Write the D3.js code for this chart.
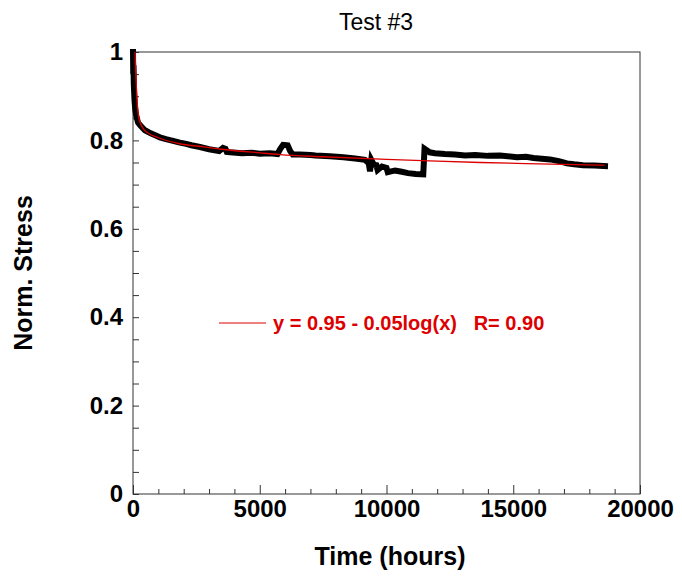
<!DOCTYPE html>
<html>
<head>
<meta charset="utf-8">
<script src="https://cdn.jsdelivr.net/npm/d3@7"></script>
<style>
  html, body { margin: 0; padding: 0; background: #fff; }
  svg { display: block; font-family: Arial, "Liberation Sans", sans-serif; }
</style>
</head>
<body>
<svg id="chart" width="682" height="576"></svg>
<script>
// ---- data ----
const chartTitle = "Test #3";
const xLabel = "Time (hours)";
const yLabel = "Norm. Stress";
const legendText = "y = 0.95 - 0.05log(x)   R= 0.90";

const xTicks = [0, 5000, 10000, 15000, 20000];
const yTicks = [0, 0.2, 0.4, 0.6, 0.8, 1];
const yTickLabels = ["0", "0.2", "0.4", "0.6", "0.8", "1"];

// measured normalized stress vs time
const timeHours = [0, 10, 20, 30, 45, 60, 90, 130, 200, 300, 470, 700, 900, 1060, 1300, 1500, 1850, 2100, 2300, 2640, 3000, 3400,
  3550, 3650, 3700, 3830, 4300, 4700, 5000, 5400, 5700, 5800, 5920, 6100, 6200, 6300, 6590, 7000, 7200, 7770, 8300, 8760,
  9150, 9300, 9350, 9400, 9500, 9600, 9650, 9820, 10000, 10050, 10340, 10600, 10850, 11150, 11450, 11500,
  11700, 11910, 12300, 12700, 13100, 13500, 14000, 14480, 15150, 15500, 15800, 16450, 16800, 17120, 17400, 17750, 18200, 18620];
const stress = [1.0, 0.95, 0.97, 0.93, 0.91, 0.89, 0.87, 0.855, 0.84, 0.833, 0.823, 0.816, 0.811, 0.807, 0.803, 0.80, 0.795, 0.792, 0.789, 0.785, 0.78, 0.776,
  0.783, 0.781, 0.774, 0.773, 0.771, 0.772, 0.770, 0.771, 0.769, 0.78, 0.79, 0.789, 0.776, 0.768, 0.768, 0.767, 0.766, 0.764, 0.762, 0.759,
  0.756, 0.748, 0.73, 0.756, 0.745, 0.744, 0.733, 0.741, 0.738, 0.728, 0.732, 0.729, 0.726, 0.724, 0.723, 0.781,
  0.773, 0.771, 0.769, 0.768, 0.766, 0.767, 0.765, 0.766, 0.762, 0.763, 0.760, 0.757, 0.753, 0.748, 0.746, 0.744, 0.743, 0.742];

// logarithmic fit curve as drawn
const fitTime = [80, 150, 237, 473, 1000, 1800, 2850, 3500, 5000, 5800, 7500, 10000, 12000, 13700, 16000, 18600];
const fitStress = [1.0, 0.9, 0.849, 0.822, 0.806, 0.793, 0.785, 0.780, 0.772, 0.768, 0.763, 0.757, 0.753, 0.750, 0.747, 0.744];

// ---- drawing ----
const svg = d3.select("#chart");
const mLeft = 133, mRight = 640, mTop = 52, mBottom = 494;
const x = d3.scaleLinear().domain([0, 20000]).range([mLeft, mRight]);
const y = d3.scaleLinear().domain([0, 1]).range([mBottom, mTop]);
const red = "#dd0000";

// minor ticks
const xMinor = d3.range(1000, 20000, 1000).filter(v => v % 5000 !== 0);
const yMinor = d3.range(1, 20).map(i => i * 0.05).filter((v, i) => (i + 1) % 4 !== 0);

svg.append("g").attr("transform", `translate(0,${mBottom})`)
  .call(d3.axisBottom(x).tickValues(xMinor).tickSize(-5).tickFormat(""))
  .call(g => g.select(".domain").remove())
  .selectAll("line").attr("stroke", "#333");
svg.append("g").attr("transform", `translate(${mLeft},0)`)
  .call(d3.axisLeft(y).tickValues(yMinor).tickSize(-6).tickFormat(""))
  .call(g => g.select(".domain").remove())
  .selectAll("line").attr("stroke", "#333");

// major axes
const gx = svg.append("g").attr("transform", `translate(0,${mBottom})`)
  .call(d3.axisBottom(x).tickValues(xTicks).tickSize(-9).tickPadding(6).tickFormat(d3.format("d")));
gx.select(".domain").remove();
gx.selectAll("line").attr("stroke", "#333");
gx.selectAll("text").attr("font-size", 24).attr("font-weight", "bold").attr("fill", "#000")
  .attr("font-family", "Arial, 'Liberation Sans', sans-serif");

const gy = svg.append("g").attr("transform", `translate(${mLeft},0)`)
  .call(d3.axisLeft(y).tickValues(yTicks).tickSize(-6).tickPadding(10).tickFormat((d, i) => yTickLabels[i]));
gy.select(".domain").remove();
gy.selectAll("line").attr("stroke", "#333");
gy.selectAll("text").attr("font-size", 24).attr("font-weight", "bold").attr("fill", "#000")
  .attr("font-family", "Arial, 'Liberation Sans', sans-serif");

// frame
svg.append("rect").attr("x", mLeft).attr("y", mTop)
  .attr("width", mRight - mLeft).attr("height", mBottom - mTop)
  .attr("fill", "none").attr("stroke", "#333").attr("stroke-width", 1);

// data line
const dataPts = timeHours.map((t, i) => [t, stress[i]]);
svg.append("path").datum(dataPts)
  .attr("fill", "none").attr("stroke", "#000").attr("stroke-width", 6)
  .attr("stroke-linejoin", "miter").attr("stroke-linecap", "square")
  .attr("d", d3.line().x(d => x(d[0])).y(d => y(d[1])));

// fit line
const fitPts = fitTime.map((t, i) => [t, fitStress[i]]);
svg.append("path").datum(fitPts)
  .attr("fill", "none").attr("stroke", red).attr("stroke-width", 1.3)
  .attr("d", d3.line().curve(d3.curveMonotoneX).x(d => x(d[0])).y(d => y(d[1])));

// legend
svg.append("line").attr("x1", 219).attr("x2", 266).attr("y1", 323).attr("y2", 323)
  .attr("stroke", red).attr("stroke-width", 1);
svg.append("text").attr("x", 273).attr("y", 330)
  .attr("font-size", 20).attr("font-weight", "bold").attr("fill", red)
  .attr("xml:space", "preserve").style("white-space", "pre")
  .text(legendText);

// titles
svg.append("text").attr("x", 376).attr("y", 30).attr("text-anchor", "middle")
  .attr("font-size", 23).attr("fill", "#000").text(chartTitle);
svg.append("text").attr("x", 390).attr("y", 565).attr("text-anchor", "middle")
  .attr("font-size", 25).attr("font-weight", "bold").attr("fill", "#000").text(xLabel);
svg.append("text").attr("transform", "translate(32,273) rotate(-90)").attr("text-anchor", "middle")
  .attr("font-size", 25).attr("font-weight", "bold").attr("fill", "#000").text(yLabel);
</script>
</body>
</html>
